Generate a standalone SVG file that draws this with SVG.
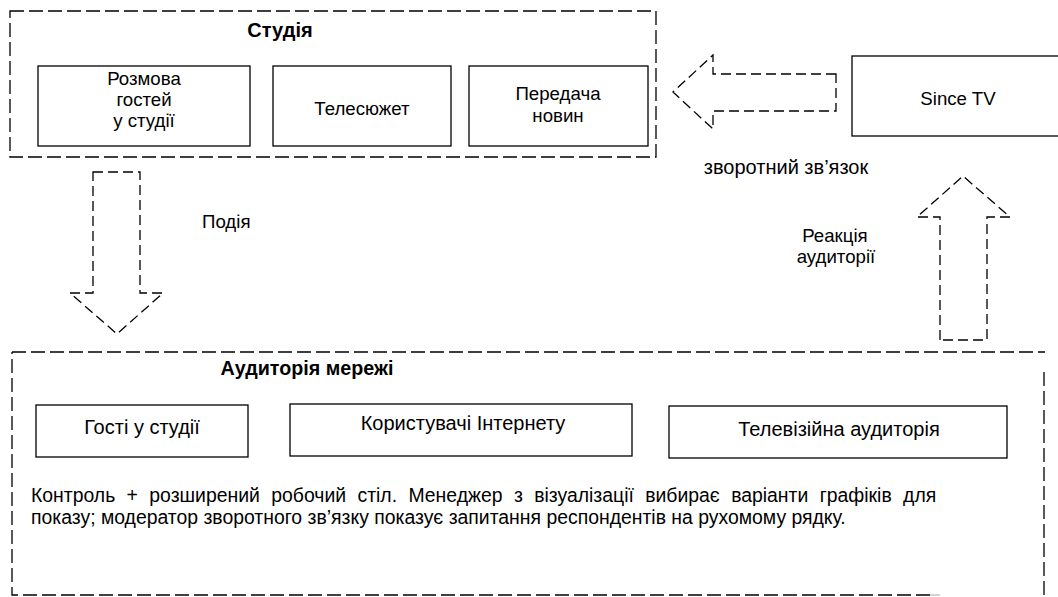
<svg xmlns="http://www.w3.org/2000/svg" width="1058" height="597" viewBox="0 0 1058 597">
<style>
text{font-family:"Liberation Sans",Arial,sans-serif;font-size:18.67px;fill:#000}
.b{font-weight:bold}
.m{text-anchor:middle}
.l{font-size:20px}
.p{font-size:19.4px}
.box{fill:#fff;stroke:#000;stroke-width:1.3}
.grp{fill:none;stroke:#000;stroke-width:1.3;stroke-dasharray:14 5}
.arr{fill:none;stroke:#000;stroke-width:1.3;stroke-dasharray:10 5}
</style>
<rect width="1058" height="597" fill="#fff"/>
<g id="studio">
<rect class="grp" x="10" y="11" width="646" height="146"/>
<text class="b m l" x="280" y="37">Студія</text>
</g>
<g id="rozmova">
<rect class="box" x="38" y="66" width="212" height="80"/>
<text class="m" x="144" y="85">Розмова</text>
<text class="m" x="144" y="106">гостей</text>
<text class="m" x="144" y="127">у студії</text>
</g>
<g id="telesiuzhet">
<rect class="box" x="273" y="66" width="178" height="80"/>
<text class="m" x="362" y="115">Телесюжет</text>
</g>
<g id="peredacha">
<rect class="box" x="469" y="66" width="179" height="80"/>
<text class="m" x="558" y="100">Передача</text>
<text class="m" x="558" y="122">новин</text>
</g>
<g id="sincetv">
<rect class="box" x="852" y="56" width="212" height="80"/>
<text class="m" x="958" y="105">Since TV</text>
</g>
<g id="audience">
<path class="grp" d="M12 352 H1045 M1044 372 V597 M930 595 H12 V352"/>
<path d="M930 595 H945" stroke="#bbb" stroke-width="1.3" stroke-dasharray="10 5"/>
<text class="b m" x="307" y="375" style="font-size:19.7px">Аудиторія мережі</text>
<text class="p" x="31" y="502" word-spacing="6">Контроль + розширений робочий стіл. Менеджер з візуалізації вибирає варіанти графіків для</text>
<text class="p" x="31" y="524">показу; модератор зворотного зв’язку показує запитання респондентів на рухомому рядку.</text>
</g>
<g id="gosti">
<rect class="box" x="36" y="405" width="212" height="52"/>
<text class="m l" x="142" y="434">Гості у студії</text>
</g>
<g id="korystuvachi">
<rect class="box" x="290" y="404" width="342" height="52"/>
<text class="m l" x="463" y="430">Користувачі Інтернету</text>
</g>
<g id="tv-audience">
<rect class="box" x="669" y="406" width="338" height="52"/>
<text class="m l" x="839" y="436">Телевізійна аудиторія</text>
</g>
<g id="connectors">
<polygon class="arr" points="836,74 713,74 713,55 673,92 713,129 713,111 836,111"/>
<text class="m l" x="786" y="174">зворотний зв’язок</text>
<polygon class="arr" points="93,172 140,172 140,293 163,293 117,334 70,293 93,293"/>
<text x="202" y="228">Подія</text>
<polygon class="arr" points="940,340 940,217 917,217 963,176 1010,217 987,217 987,340"/>
<text class="m" x="835" y="242">Реакція</text>
<text class="m" x="836" y="263">аудиторії</text>
</g>
</svg>
